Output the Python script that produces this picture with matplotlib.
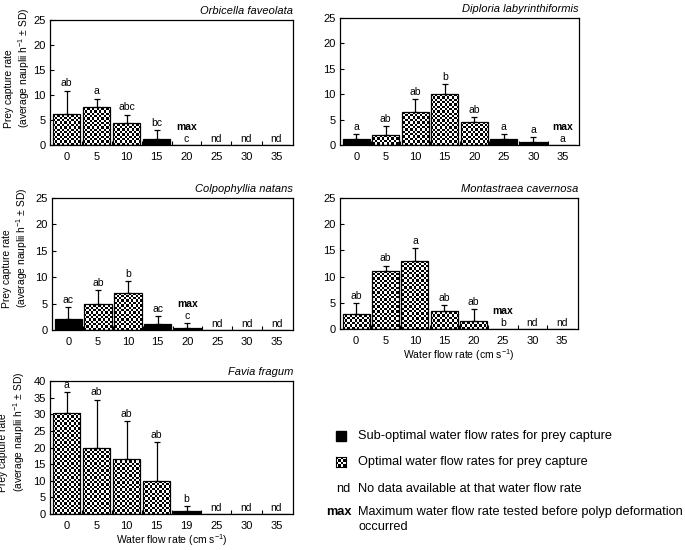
import numpy as np
import matplotlib
matplotlib.use("Agg")
import matplotlib.pyplot as plt
from matplotlib.patches import Rectangle

plt.rcParams['font.family'] = ['Liberation Sans', 'DejaVu Sans']
plt.rcParams['mathtext.fontset'] = 'custom'
plt.rcParams['mathtext.rm'] = 'Liberation Sans'
plt.rcParams['mathtext.default'] = 'regular'

nan = np.nan

# flow rate categories (cm s-1)
flow_default = ['0', '5', '10', '15', '20', '25', '30', '35']
flow_favia = ['0', '5', '10', '15', '19', '25', '30', '35']

species = ["Orbicella faveolata", "Diploria labyrinthiformis",
           "Colpophyllia natans", "Montastraea cavernosa", "Favia fragum"]

# mean prey capture, SD, bar kind ('o' optimal, 's' sub-optimal), letters
orb_mean = [6.3, 7.6, 4.5, 1.2, 0, nan, nan, nan]
orb_sd = [4.6, 1.7, 1.6, 1.8, 0, nan, nan, nan]
orb_kind = ['o', 'o', 'o', 's', 's', '', '', '']
orb_letters = ['ab', 'a', 'abc', 'bc', 'c', 'nd', 'nd', 'nd']
orb_max = 4

dip_mean = [1.1, 2.0, 6.5, 10.0, 4.6, 1.1, 0.6, 0]
dip_sd = [1.0, 1.7, 2.6, 2.0, 0.9, 1.0, 1.0, 0]
dip_kind = ['s', 'o', 'o', 'o', 'o', 's', 's', 's']
dip_letters = ['a', 'ab', 'ab', 'b', 'ab', 'a', 'a', 'a']
dip_max = 7

col_mean = [2.0, 4.9, 7.1, 1.2, 0.45, nan, nan, nan]
col_sd = [2.4, 2.7, 2.1, 1.5, 0.85, nan, nan, nan]
col_kind = ['s', 'o', 'o', 's', 's', '', '', '']
col_letters = ['ac', 'ab', 'b', 'ac', 'c', 'nd', 'nd', 'nd']
col_max = 4

mon_mean = [2.8, 11.0, 13.0, 3.5, 1.5, 0, nan, nan]
mon_sd = [2.2, 1.1, 2.4, 1.0, 2.25, 0, nan, nan]
mon_kind = ['o', 'o', 'o', 'o', 'o', 'o', '', '']
mon_letters = ['ab', 'ab', 'a', 'ab', 'ab', 'b', 'nd', 'nd']
mon_max = 5

fav_mean = [30.5, 19.7, 16.5, 10.0, 0.8, nan, nan, nan]
fav_sd = [6.1, 14.7, 11.4, 11.6, 1.7, nan, nan, nan]
fav_kind = ['o', 'o', 'o', 'o', 's', '', '', '']
fav_letters = ['a', 'ab', 'ab', 'ab', 'b', 'nd', 'nd', 'nd']
fav_max = None

W, H = 685, 550


def px_rect(l, t, r, b):
    # pixel box -> figure fraction [left, bottom, width, height]
    return [l / W, 1 - b / H, (r - l) / W, (b - t) / H]


def checker(nx, ny):
    return np.add.outer(np.arange(ny), np.arange(nx)) % 2


fig = plt.figure(figsize=(W / 100, H / 100), dpi=100)

# (title, flows, mean, sd, kind, letters, max index, axes box, y max, ylabel pos, xlabel)
panels = [
    (species[0], flow_default, orb_mean, orb_sd, orb_kind, orb_letters, orb_max,
     px_rect(50, 20, 293, 145), 25, (-0.13, 0.136), False),
    (species[1], flow_default, dip_mean, dip_sd, dip_kind, dip_letters, dip_max,
     px_rect(340, 18, 579, 145), 25, None, False),
    (species[2], flow_default, col_mean, col_sd, col_kind, col_letters, col_max,
     px_rect(52, 198, 293, 330), 25, (-0.148, 0.165), False),
    (species[3], flow_default, mon_mean, mon_sd, mon_kind, mon_letters, mon_max,
     px_rect(340, 198, 578, 329), 25, None, True),
    (species[4], flow_favia, fav_mean, fav_sd, fav_kind, fav_letters, fav_max,
     px_rect(50, 381, 293, 514), 40, (-0.154, 0.165), True),
]

cell = 2.3  # checker cell size in pixels

for name, flows, mean, sd, kind, letters, imax, rect, ytop, ylab, xlab in panels:
    ax = fig.add_axes(rect)
    x = np.arange(len(flows))
    m = np.nan_to_num(np.array(mean, dtype=float))
    s = np.nan_to_num(np.array(sd, dtype=float))
    xlim = (-0.55, len(flows) - 0.45)
    ylim = (0, ytop)

    bars = ax.bar(x, m, width=0.92, color='none', edgecolor='black',
                  linewidth=0.9, zorder=3)
    bw = rect[2] * W
    bh = rect[3] * H
    pattern = checker(int(bw / cell), int(bh / cell))
    for b, k, v in zip(bars, kind, m):
        if v <= 0:
            continue
        if k == 's':
            b.set_facecolor('black')
        elif k == 'o':
            im = ax.imshow(pattern, cmap='gray', extent=(*xlim, *ylim),
                           aspect='auto', interpolation='nearest', zorder=2)
            im.set_clip_path(b)

    has_err = s > 0
    ax.errorbar(x[has_err], m[has_err], yerr=[np.zeros(has_err.sum()), s[has_err]],
                fmt='none', ecolor='black', elinewidth=0.9, capsize=2.5,
                capthick=0.9, zorder=4)

    for i, lab in enumerate(letters):
        top = m[i] + s[i]
        off = 3.0 if top > 0 else 2.2
        ax.annotate(lab, (x[i], top), xytext=(0, off), textcoords='offset points',
                    ha='center', va='baseline', fontsize=7.5)
        if imax is not None and i == imax:
            ax.annotate('max', (x[i], top), xytext=(0, off + 8.6),
                        textcoords='offset points', ha='center', va='baseline',
                        fontsize=7.5, fontweight='bold')

    ax.set_xlim(*xlim)
    ax.set_ylim(*ylim)
    ax.set_xticks(x)
    ax.set_xticklabels(flows)
    ax.set_xticks(x[:-1] + 0.5, minor=True)
    ax.set_yticks(np.arange(0, ytop + 1, 5))
    ax.tick_params(axis='x', which='major', length=0, pad=5, labelsize=8)
    ax.tick_params(axis='x', which='minor', direction='in', length=3, width=0.8)
    ax.tick_params(axis='y', direction='in', length=3, width=0.8, pad=3, labelsize=8)
    for sp in ax.spines.values():
        sp.set_linewidth(0.9)
    ax.set_title(name, loc='right', fontsize=8, style='italic', pad=4)

    if ylab is not None:
        ax.text(ylab[0], ylab[1], 'Prey capture rate\n(average nauplii h$^{-1}$ ± SD)',
                transform=ax.transAxes, rotation=90, ha='center', va='bottom',
                multialignment='left', fontsize=7.4)
    if xlab:
        ax.set_xlabel('Water flow rate (cm s$^{-1}$)', fontsize=7.5, labelpad=1)

# legend built by hand
fs = 9.2
fig.patches.append(Rectangle((336 / W, 1 - 441 / H), 10 / W, 10 / H, facecolor='black',
                             edgecolor='black', transform=fig.transFigure, figure=fig))
lax = fig.add_axes(px_rect(336, 457, 346, 467))
lax.imshow(checker(4, 4), cmap='gray', interpolation='nearest', aspect='auto')
lax.set_xticks([])
lax.set_yticks([])
for sp in lax.spines.values():
    sp.set_linewidth(0.8)

fig.text(358 / W, 1 - 436 / H, 'Sub-optimal water flow rates for prey capture',
         fontsize=fs, va='center')
fig.text(358 / W, 1 - 462 / H, 'Optimal water flow rates for prey capture',
         fontsize=fs, va='center')
fig.text(350 / W, 1 - 489 / H, 'nd', fontsize=fs, va='center', ha='right')
fig.text(358 / W, 1 - 489 / H, 'No data available at that water flow rate',
         fontsize=fs, va='center')
fig.text(352 / W, 1 - 512 / H, 'max', fontsize=fs, va='center', ha='right',
         fontweight='bold')
fig.text(358 / W, 1 - 512 / H,
         'Maximum water flow rate tested before polyp deformation',
         fontsize=fs, va='center')
fig.text(358 / W, 1 - 527 / H, 'occurred', fontsize=fs, va='center')

fig.savefig('out.png', dpi=100)
